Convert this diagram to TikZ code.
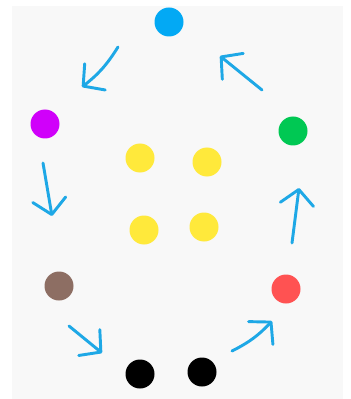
\documentclass[tikz,border=0pt]{standalone}
\usepackage{tikz}
\usepackage{xcolor}
\usetikzlibrary{arrows.meta}
\definecolor{paper}{RGB}{248,248,248}
\definecolor{pen}{RGB}{30,168,230}
\definecolor{dotblue}{RGB}{3,169,244}
\definecolor{dotpurple}{RGB}{208,0,250}
\definecolor{dotgreen}{RGB}{0,200,83}
\definecolor{dotyellow}{RGB}{255,233,59}
\definecolor{dotbrown}{RGB}{141,110,99}
\definecolor{dotred}{RGB}{255,82,82}

\begin{document}
\begin{tikzpicture}[x=0.03cm, y=-0.03cm, >={Straight Barb[length=4.5mm,width=10mm,round]},
    dot/.style={circle, inner sep=0pt, minimum size=0.87cm},
    flow/.style={->, pen, line width=2.5pt, line cap=round}]
    \useasboundingbox (0,0) rectangle (350,399);
    % Paper
    \fill[paper] (12,6) rectangle (343,399);

    % Outer ring of dots
    \node[dot, fill=dotblue] (blue) at (169,22) {};
    \node[dot, fill=dotpurple] (purple) at (45,124) {};
    \node[dot, fill=dotgreen] (green) at (293,131) {};
    \node[dot, fill=dotbrown] (brown) at (59,286) {};
    \node[dot, fill=dotred] (red) at (286,289) {};
    \node[dot, fill=black] (blackA) at (140,374) {};
    \node[dot, fill=black] (blackB) at (202,372) {};

    % Yellow dots in the middle
    \foreach \n/\x/\y in {1/140/158, 2/207/162, 3/144/230, 4/204/227} {
        \node[dot, fill=dotyellow] (yellow\n) at (\x,\y) {};
    }

    % Arrow ends
    \coordinate (bluePurpleS) at (118,47);
    \coordinate (bluePurpleE) at (82,87);
    \coordinate (purpleDownS) at (43,163);
    \coordinate (purpleDownE) at (52,216);
    \coordinate (brownBlackS) at (69,326);
    \coordinate (brownBlackE) at (102,353);
    \coordinate (blackRedS) at (232,351);
    \coordinate (blackRedE) at (272,321);
    \coordinate (redGreenS) at (292,243);
    \coordinate (redGreenE) at (299,188);
    \coordinate (greenBlueS) at (262,90);
    \coordinate (greenBlueE) at (220,56);

    % Arrows
    \draw[flow] (bluePurpleS) to[bend left=10] (bluePurpleE);
    \draw[flow] (purpleDownS) -- (purpleDownE);
    \draw[flow] (brownBlackS) -- (brownBlackE);
    \draw[flow] (blackRedS) to[bend right=10] (blackRedE);
    \draw[flow] (redGreenS) -- (redGreenE);
    \draw[flow] (greenBlueS) -- (greenBlueE);
\end{tikzpicture}
\end{document}
